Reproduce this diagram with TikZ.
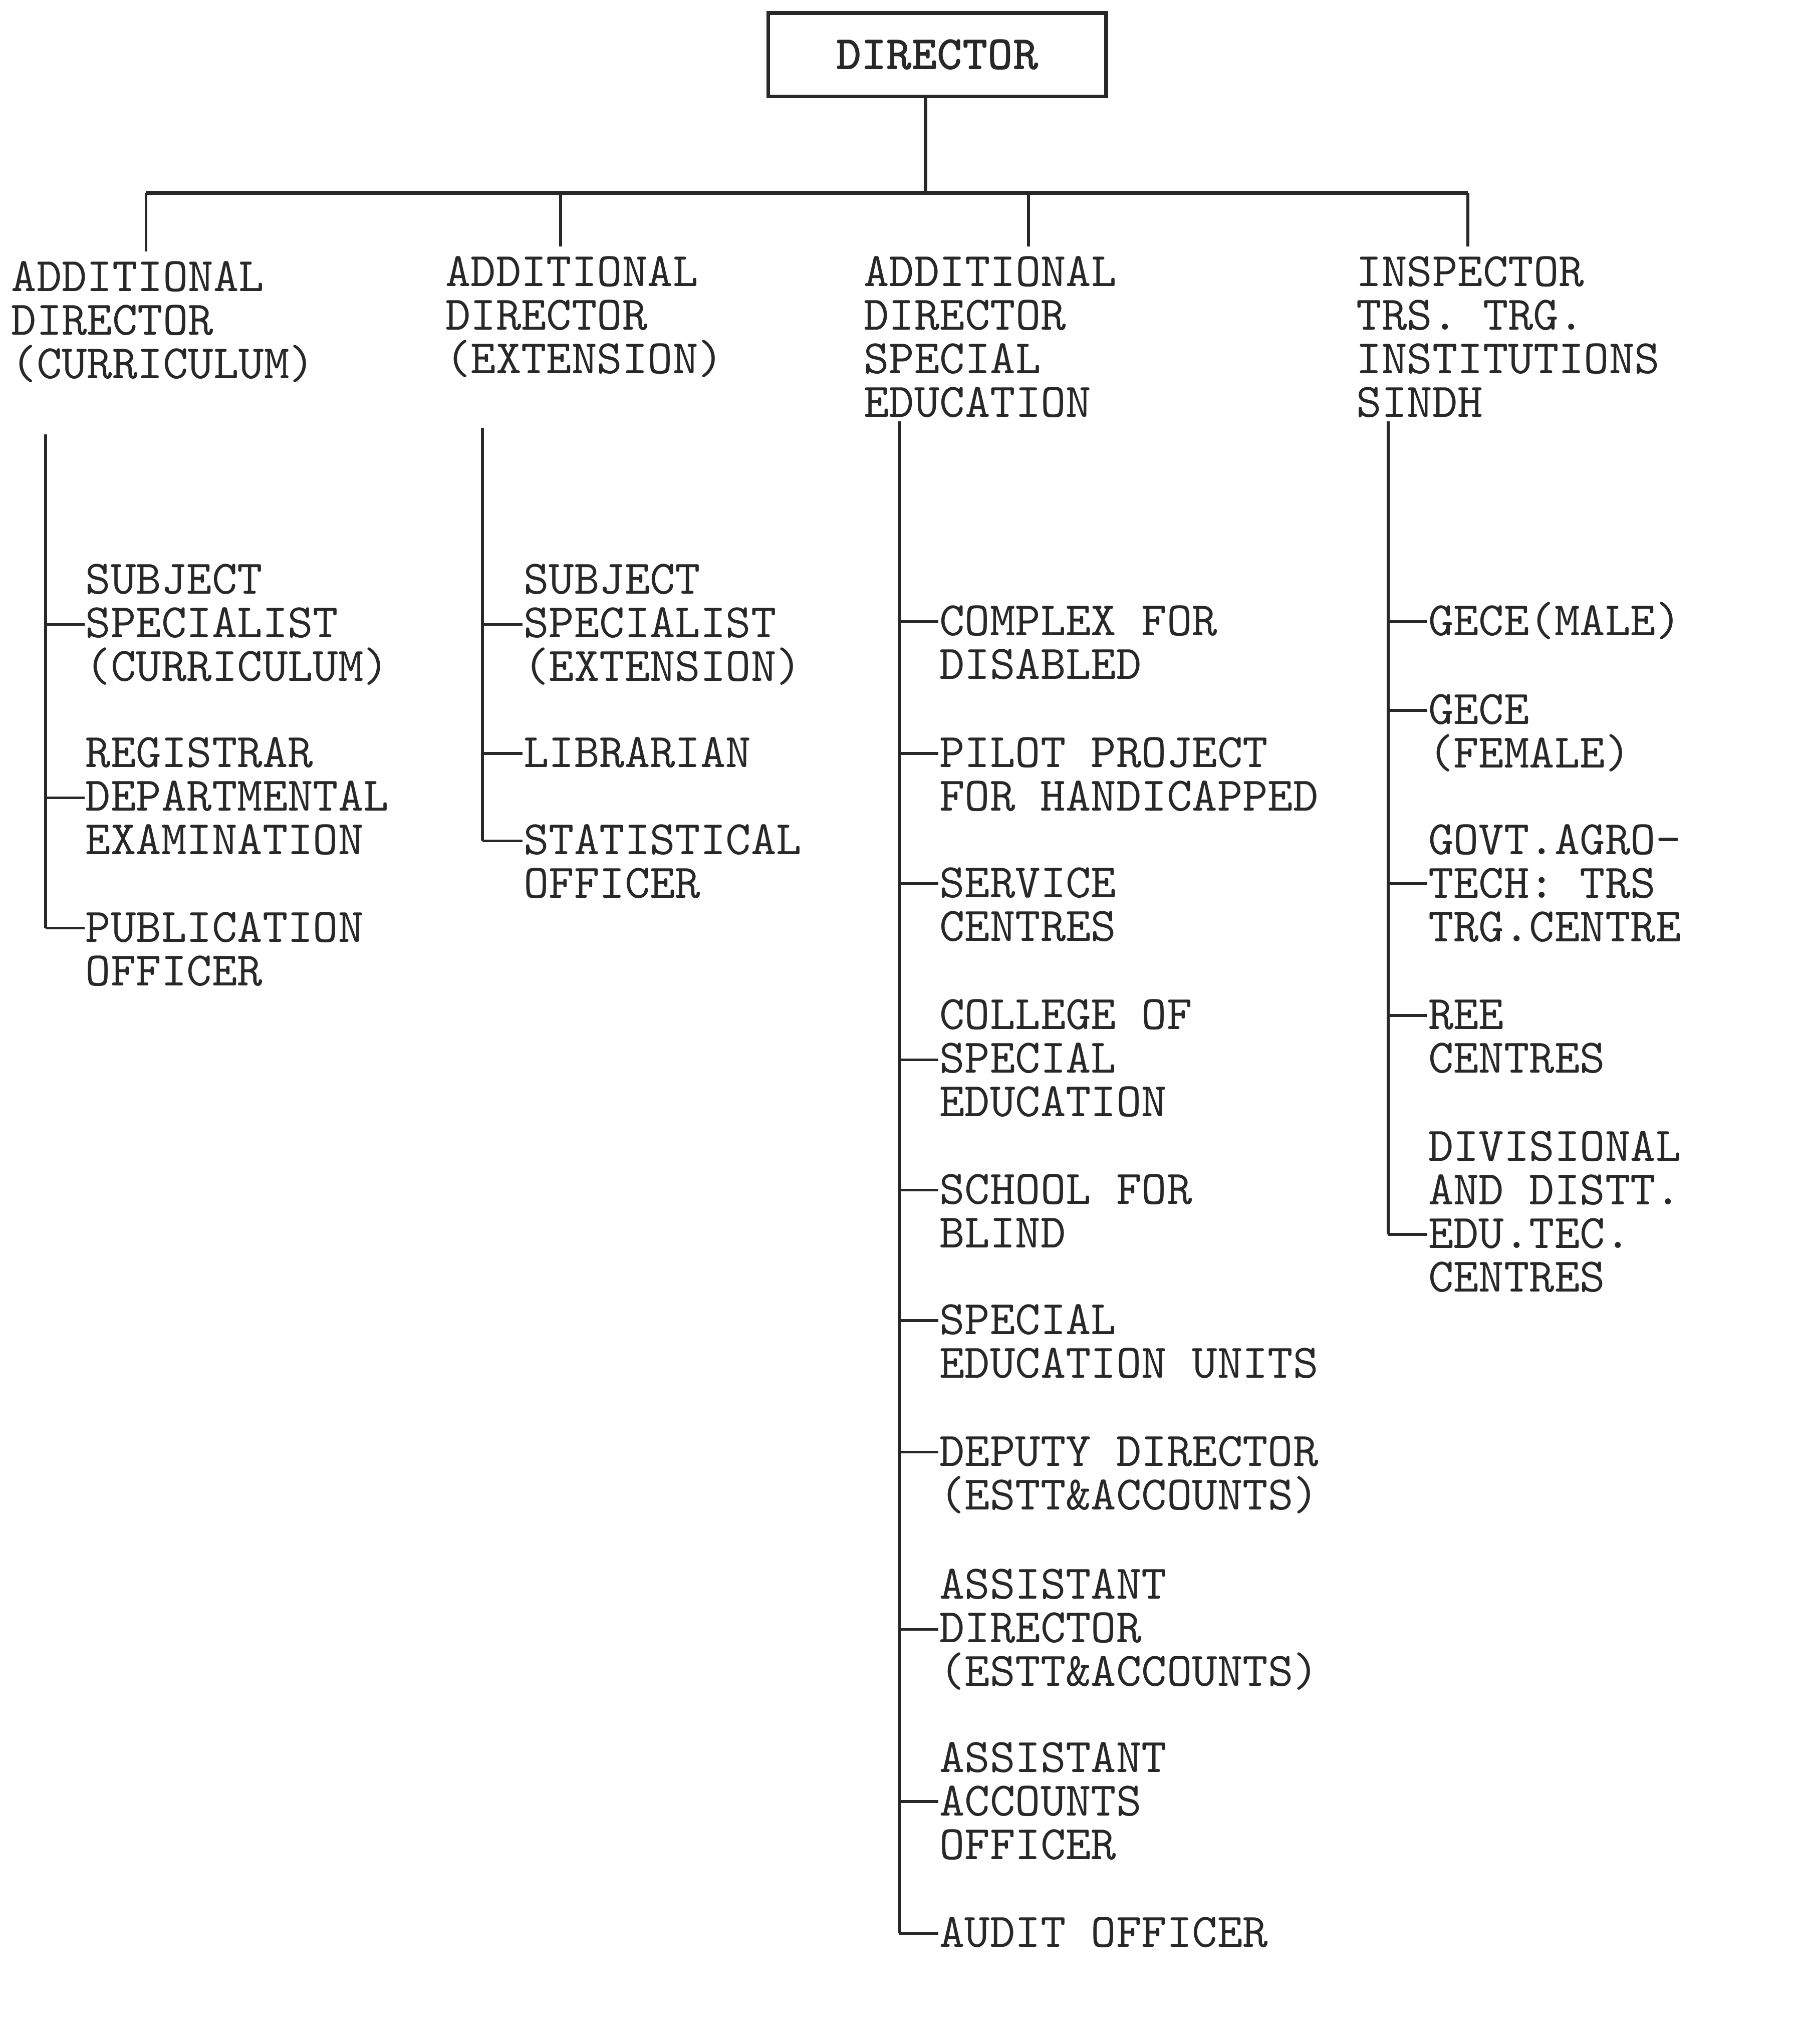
\documentclass[tikz,border=0pt]{standalone}
\usepackage{fontspec}

\begin{document}
\begin{tikzpicture}[x=0.01cm, y=-0.01cm]
\definecolor{inkColour}{RGB}{40, 40, 40}
			\tikzstyle{chief}=[draw, color=inkColour, line width=0.8pt, minimum width=2.59cm, minimum height=0.64cm, font=\ttfamily\bfseries\fontsize{10.5}{9.5}\selectfont]
			\tikzstyle{post}=[anchor=north west, inner sep=0pt, text width=4cm, align=left, color=inkColour, font=\ttfamily\fontsize{10.5}{9.5}\selectfont, execute at begin node={\spaceskip=0.525em\relax\rule{0pt}{8.5pt}}]
			\tikzstyle{link}=[-, color=inkColour, line width=0.6pt]
			\tikzstyle{bus}=[-, color=inkColour, line width=0.8pt]

			\useasboundingbox (0,0) rectangle (1379,1568);

			\node [chief] (dir) at (719,42) {DIRECTOR};

			% heads of the four wings
			\node [post] (adcur) at (8,193) {ADDITIONAL\\DIRECTOR\\(CURRICULUM)};
			\node [post] (adext) at (341,189) {ADDITIONAL\\DIRECTOR\\(EXTENSION)};
			\node [post] (adspe) at (662,189) {ADDITIONAL\\DIRECTOR\\SPECIAL\\EDUCATION};
			\node [post] (insp) at (1040,189) {INSPECTOR\\TRS. TRG.\\INSTITUTIONS\\SINDH};

			% curriculum wing
			\node [post] (sscur) at (65,425) {SUBJECT\\SPECIALIST\\(CURRICULUM)};
			\node [post] (regis) at (65,558) {REGISTRAR\\DEPARTMENTAL\\EXAMINATION};
			\node [post] (publ) at (65,692) {PUBLICATION\\OFFICER};

			% extension wing
			\node [post] (ssext) at (401,425) {SUBJECT\\SPECIALIST\\(EXTENSION)};
			\node [post] (libr) at (401,558) {LIBRARIAN};
			\node [post] (stat) at (401,625) {STATISTICAL\\OFFICER};

			% special education wing
			\node [post] (cplx) at (720,457) {COMPLEX FOR\\DISABLED};
			\node [post] (pilot) at (720,558) {PILOT PROJECT\\FOR HANDICAPPED};
			\node [post] (serv) at (720,658) {SERVICE\\CENTRES};
			\node [post] (coll) at (720,759) {COLLEGE OF\\SPECIAL\\EDUCATION};
			\node [post] (blind) at (720,893) {SCHOOL FOR\\BLIND};
			\node [post] (units) at (720,993) {SPECIAL\\EDUCATION UNITS};
			\node [post] (depd) at (720,1094) {DEPUTY DIRECTOR\\(ESTT\&ACCOUNTS)};
			\node [post] (asdir) at (720,1196) {ASSISTANT\\DIRECTOR\\(ESTT\&ACCOUNTS)};
			\node [post] (asacc) at (720,1329) {ASSISTANT\\ACCOUNTS\\OFFICER};
			\node [post] (audit) at (720,1463) {AUDIT OFFICER};

			% teachers training wing
			\node [post] (gecem) at (1095,457) {GECE(MALE)};
			\node [post] (gecef) at (1095,525) {GECE\\(FEMALE)};
			\node [post] (agro) at (1095,625) {GOVT.AGRO-\\TECH: TRS\\TRG.CENTRE};
			\node [post] (ree) at (1095,759) {REE\\CENTRES};
			\node [post] (divn) at (1095,860) {DIVISIONAL\\AND DISTT.\\EDU.TEC.\\CENTRES};

			% director to the wings
			\coordinate (d0) at (710,148);
			\coordinate (d1) at (112,148);
			\coordinate (d2) at (430,148);
			\coordinate (d3) at (789,148);
			\coordinate (d4) at (1126,148);

			\path[bus]
			(dir.south -| d0) edge (d0)
			(d1) edge (d4);
			\path[link]
			(d1) edge (d1 |- adcur.north)
			(d2) edge (d2 |- adext.north)
			(d3) edge (d3 |- adspe.north)
			(d4) edge (d4 |- insp.north);

			% spines and branches
			\coordinate (top1) at (35,333);
			\coordinate (top2) at (370,328);
			\coordinate (top3) at (690,323);
			\coordinate (top4) at (1065,323);

			\foreach \who/\y in {sscur/479, regis/612, publ/712}
			{\coordinate (b-\who) at (35,\y);
			\draw[link] (b-\who) -- (b-\who -| \who.west);}
			\foreach \who/\y in {ssext/479, libr/578, stat/645}
			{\coordinate (b-\who) at (370,\y);
			\draw[link] (b-\who) -- (b-\who -| \who.west);}
			\foreach \who/\y in {cplx/477, pilot/578, serv/678, coll/813, blind/913, units/1013, depd/1114, asdir/1250, asacc/1382, audit/1483}
			{\coordinate (b-\who) at (690,\y);
			\draw[link] (b-\who) -- (b-\who -| \who.west);}
			\foreach \who/\y in {gecem/477, gecef/545, agro/678, ree/779, divn/947}
			{\coordinate (b-\who) at (1065,\y);
			\draw[link] (b-\who) -- (b-\who -| \who.west);}

			\path[link]
			(top1) edge (b-publ)
			(top2) edge (b-stat)
			(top3) edge (b-audit)
			(top4) edge (b-divn);
		\end{tikzpicture}
\end{document}
